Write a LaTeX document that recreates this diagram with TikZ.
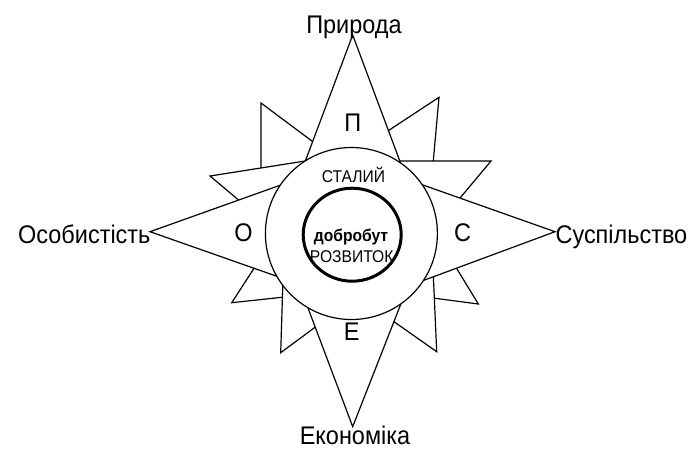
\documentclass[tikz,border=0pt]{standalone}
\usepackage{fontspec}
\setmainfont[FakeStretch=0.92]{Liberation Sans}
\begin{document}
\begin{tikzpicture}[x=1pt,y=-1pt, line width=1.2pt, line join=miter,
  ray/.style={draw=black, fill=white},
  lbl/.style={font=\fontsize{25.5}{30}\selectfont, inner sep=0pt, anchor=base},
  sml/.style={font=\fontsize{17}{20}\selectfont, inner sep=0pt, anchor=base}]
\useasboundingbox (0,0) rectangle (694,448);
% small secondary rays (lower layers)
\draw[ray] (261,103) -- (340,162) -- (261,200) -- cycle;
\draw[ray] (210,176) -- (340,155.5) -- (270,226.5) -- cycle;
\draw[ray] (439,97.3) -- (360,149.3) -- (429.8,200) -- cycle;
\draw[ray] (491,161) -- (360,161) -- (440,222) -- cycle;
\draw[ray] (231.7,302.7) -- (270,243.7) -- (320,293.2) -- cycle;
\draw[ray] (280.7,352.7) -- (283.6,260) -- (350,301.4) -- cycle;
\draw[ray] (478.3,304) -- (440,241) -- (380,291) -- cycle;
\draw[ray] (436.7,351.7) -- (432.2,250) -- (360,297.8) -- cycle;
% main rays
\draw[ray] (352.7,35) -- (279,231) -- (426,231) -- cycle;
\draw[ray] (352.7,426.7) -- (279,231) -- (429.5,231) -- cycle;
\draw[ray] (150,231.7) -- (352,159.6) -- (352,302.7) -- cycle;
\draw[ray] (555,231.7) -- (352,159.9) -- (352,306.9) -- cycle;
% centre circle
\draw[ray] (351.4,233.5) circle[radius=86pt];
% labels
\node[lbl] (nat) at (354,33) {Природа};
\node[lbl] (eco) at (355,444) {Економіка};
\node[lbl, anchor=base east] (per) at (151,243) {Особистість};
\node[lbl, anchor=base west] (soc) at (555,243) {Суспільство};
\node[lbl] (p) at (352.7,131.7) {П};
\node[lbl] (e) at (351.7,340) {Е};
\node[lbl] (o) at (243.5,241.5) {О};
\node[lbl] (s) at (462.5,241.7) {С};
\node[sml] (st) at (353.5,182.7) {СТАЛИЙ};
\node[sml, font=\fontsize{17}{20}\selectfont\bfseries] (dob) at (351,241) {добробут};
\node[sml] (roz) at (351.7,262.7) {РОЗВИТОК};
% inner thick ring
\draw[line width=3pt] (352.2,234.7) ellipse[x radius=49pt, y radius=46.5pt];
\end{tikzpicture}
\end{document}
